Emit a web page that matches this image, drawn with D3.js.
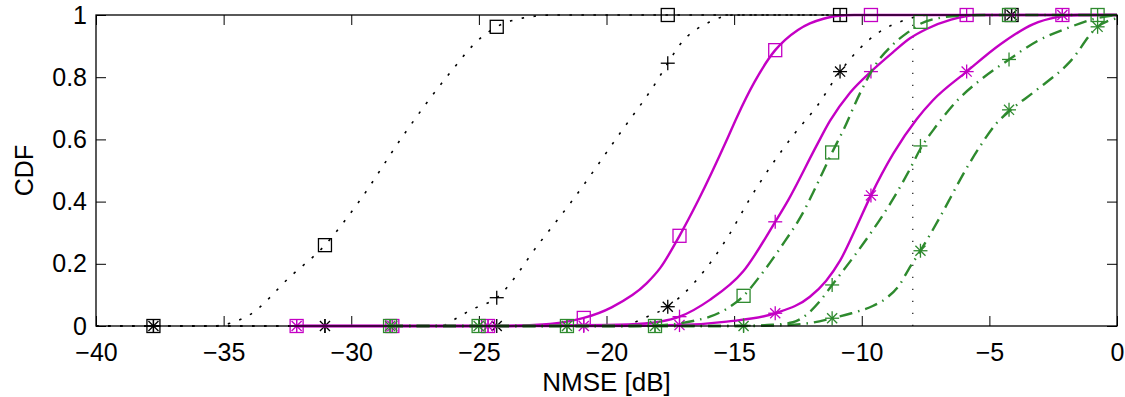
<!DOCTYPE html>
<html>
<head>
<meta charset="utf-8">
<script src="https://cdn.jsdelivr.net/npm/d3@7"></script>
<style>
  body { margin: 0; background: #fff; }
  text { font-family: "Liberation Sans", Arial, Helvetica, sans-serif; }
</style>
</head>
<body>
<svg id="chart"></svg>
<script>
// axis ticks
const xTicks = [-40, -35, -30, -25, -20, -15, -10, -5, 0];
const yTicks = [0, 0.2, 0.4, 0.6, 0.8, 1];

// marker positions for each colour group
const markXBlack = [-37.75, -31.03, -24.3, -17.6, -10.85, -4.13];
const markXMagenta = [-32.14, -28.39, -24.64, -20.89, -17.14, -13.39, -9.64, -5.89, -2.14];
const markXGreen = [-28.48, -25.01, -21.55, -18.1, -14.63, -11.16, -7.7, -4.23, -0.76];

// black dotted curves
const blackSquare = [[-40, 0], [-35.5, 0], [-34, 0.035], [-32.4, 0.158], [-31.03, 0.26], [-29.74, 0.395],
  [-27.9, 0.62], [-26.2, 0.807], [-24.95, 0.925], [-24.3, 0.962], [-23.3, 0.99], [-22, 1], [0, 1]];
const blackSquareMarks = [0, 0.26, 0.962, 1, 1, 1];

const blackPlus = [[-40, 0], [-26.5, 0], [-25.87, 0.025], [-25.35, 0.05], [-24.3, 0.091], [-22.6, 0.27],
  [-21.37, 0.4], [-19.47, 0.62], [-18.04, 0.786], [-17.6, 0.845], [-17.12, 0.905], [-15.95, 0.978], [-15, 1], [0, 1]];
const blackPlusMarks = [0, 0, 0.091, 0.845, 1, 1];

const blackStar = [[-40, 0], [-19.5, 0], [-18.4, 0.03], [-17.6, 0.062], [-16.53, 0.142], [-15.16, 0.298],
  [-14.45, 0.4], [-12.62, 0.62], [-11.77, 0.705], [-10.85, 0.818], [-10.07, 0.893], [-9.3, 0.946],
  [-8.5, 0.978], [-7.3, 1], [0, 1]];
const blackStarMarks = [0, 0, 0, 0.062, 0.818, 1];

// vertical dotted reference
const refLine = [[-8, 0], [-8, 1]];

// magenta solid curves
const magentaSquare = [[-32.14, 0], [-24, 0], [-22.5, 0.005], [-21.5, 0.015], [-20.89, 0.026], [-19.8, 0.06],
  [-18.43, 0.137], [-17.9, 0.186], [-17.14, 0.29], [-16.4, 0.405], [-15.29, 0.598], [-14.9, 0.67],
  [-14.2, 0.785], [-13.39, 0.887], [-13.0, 0.92], [-12.5, 0.952], [-12.03, 0.973], [-11.5, 0.988],
  [-11, 0.997], [-10.3, 1], [0, 1]];
const magentaSquareMarks = [0, 0, 0, 0.026, 0.29, 0.887, 1, 1, 1];

const magentaPlus = [[-32.14, 0], [-24, 0], [-20, 0.003], [-18.5, 0.008], [-17.9, 0.014], [-17.14, 0.03],
  [-15.95, 0.084], [-14.65, 0.175], [-13.39, 0.335], [-12.88, 0.405], [-11.77, 0.58], [-11.24, 0.66],
  [-10.46, 0.75], [-9.64, 0.818], [-8.78, 0.88], [-8.11, 0.925], [-7.46, 0.955], [-6.5, 0.985],
  [-5.5, 1], [0, 1]];
const magentaPlusMarks = [0, 0, 0, 0.003, 0.03, 0.335, 0.818, 1, 1];

const magentaStar = [[-32.14, 0], [-20, 0], [-17.14, 0.003], [-15.29, 0.014], [-13.39, 0.041], [-12.03, 0.094],
  [-11.4, 0.145], [-10.85, 0.21], [-10.2, 0.32], [-9.64, 0.42], [-8.76, 0.555], [-7.85, 0.665], [-7.21, 0.726],
  [-5.89, 0.818], [-4.58, 0.905], [-3.3, 0.97], [-2.36, 0.993], [-1.5, 1], [0, 1]];
const magentaStarMarks = [0, 0, 0, 0, 0.003, 0.041, 0.42, 0.818, 1];

// green dash-dot curves
const greenSquare = [[-28.48, 0], [-19, 0], [-17.5, 0.005], [-16.5, 0.018], [-15.95, 0.03], [-15.3, 0.055],
  [-14.63, 0.097], [-13.99, 0.16], [-13.2, 0.25], [-12.2, 0.38], [-11.9, 0.43], [-11.16, 0.558],
  [-10.72, 0.63], [-10.07, 0.748], [-9.42, 0.845], [-8.78, 0.905], [-8.18, 0.945], [-7.7, 0.972],
  [-7, 0.99], [-6, 0.998], [-5, 1], [0, 1]];
const greenSquareMarks = [0, 0, 0, 0, 0.097, 0.558, 0.978, 1, 1];

const greenPlus = [[-28.48, 0], [-15, 0], [-13.5, 0.004], [-12.7, 0.012], [-12.3, 0.028], [-11.64, 0.08],
  [-11.16, 0.132], [-10.34, 0.22], [-9.68, 0.295], [-8.76, 0.41], [-8.11, 0.505], [-7.7, 0.57],
  [-7.06, 0.645], [-6.2, 0.73], [-5.37, 0.79], [-4.23, 0.857], [-3.15, 0.915], [-1.97, 0.957],
  [-0.76, 0.99], [0, 1]];
const greenPlusMarks = [0, 0, 0, 0, 0.002, 0.132, 0.579, 0.857, 1];

const greenStar = [[-28.48, 0], [-14.6, 0], [-13, 0.003], [-12, 0.01], [-11.16, 0.025], [-10.4, 0.041],
  [-9.55, 0.065], [-9, 0.092], [-8.5, 0.135], [-8.18, 0.18], [-7.7, 0.242], [-6.93, 0.351], [-6.54, 0.41],
  [-6.15, 0.47], [-5.37, 0.577], [-4.72, 0.652], [-4.23, 0.69], [-3.15, 0.759], [-1.84, 0.85],
  [-0.76, 0.962], [0, 0.99]];
const greenStarMarks = [0, 0, 0, 0, 0, 0.025, 0.242, 0.695, 0.962];

const BLACK = "#000000", MAGENTA = "#c400c4", GREEN = "#2e8a2e";

const series = [
  {curve: blackSquare, mx: markXBlack, my: blackSquareMarks, color: BLACK, dash: "2.5,9.5", width: 1.6, sym: "square"},
  {curve: blackPlus, mx: markXBlack, my: blackPlusMarks, color: BLACK, dash: "2.5,9.5", width: 1.6, sym: "plus"},
  {curve: blackStar, mx: markXBlack, my: blackStarMarks, color: BLACK, dash: "2.5,9.5", width: 1.6, sym: "star"},
  {curve: magentaSquare, mx: markXMagenta, my: magentaSquareMarks, color: MAGENTA, dash: null, width: 2.4, sym: "square"},
  {curve: magentaPlus, mx: markXMagenta, my: magentaPlusMarks, color: MAGENTA, dash: null, width: 2.4, sym: "plus"},
  {curve: magentaStar, mx: markXMagenta, my: magentaStarMarks, color: MAGENTA, dash: null, width: 2.4, sym: "star"},
  {curve: greenSquare, mx: markXGreen, my: greenSquareMarks, color: GREEN, dash: "13,6,1.5,6", width: 2.4, sym: "square"},
  {curve: greenPlus, mx: markXGreen, my: greenPlusMarks, color: GREEN, dash: "13,6,1.5,6", width: 2.4, sym: "plus"},
  {curve: greenStar, mx: markXGreen, my: greenStarMarks, color: GREEN, dash: "13,6,1.5,6", width: 2.4, sym: "star"}
];

const W = 1125, H = 397;
const margin = {top: 15, right: 8, bottom: 71, left: 96};
const innerW = W - margin.left - margin.right;
const innerH = H - margin.top - margin.bottom;

const svg = d3.select("#chart").attr("width", W).attr("height", H);
const g = svg.append("g").attr("transform", `translate(${margin.left},${margin.top})`);

const x = d3.scaleLinear().domain([-40, 0]).range([0, innerW]);
const y = d3.scaleLinear().domain([0, 1]).range([innerH, 0]);

// axes, ticks pointing inward
const fontSize = 25;
g.append("g").attr("transform", `translate(0,${innerH})`)
  .call(d3.axisBottom(x).tickValues(xTicks).tickFormat(d3.format("d")).tickSize(-10).tickSizeOuter(0).tickPadding(17));
g.append("g")
  .call(d3.axisLeft(y).tickValues(yTicks).tickFormat(d => String(d)).tickSize(-10).tickSizeOuter(0).tickPadding(9));
g.append("g").call(d3.axisTop(x).tickValues(xTicks).tickFormat("").tickSize(-10).tickSizeOuter(0));
g.append("g").attr("transform", `translate(${innerW},0)`)
  .call(d3.axisRight(y).tickValues(yTicks).tickFormat("").tickSize(-10).tickSizeOuter(0));

g.selectAll(".domain").remove();
g.selectAll(".tick line").attr("stroke", "#000").attr("stroke-width", 1);
g.selectAll(".tick text").attr("font-size", fontSize).attr("fill", "#000")
  .style("font-family", '"Liberation Sans", Arial, Helvetica, sans-serif');

const line = d3.line().x(d => x(d[0])).y(d => y(d[1])).curve(d3.curveMonotoneX);

// reference line
g.append("path")
  .attr("d", d3.line().x(d => x(d[0])).y(d => y(d[1]))(refLine))
  .attr("fill", "none").attr("stroke", "#000").attr("stroke-width", 1.1)
  .attr("stroke-dasharray", "1.2,10.8");

function drawMarker(sel, sym, color) {
  const s = 6.5;
  if (sym === "square") {
    sel.append("rect").attr("x", -s).attr("y", -s).attr("width", 2 * s).attr("height", 2 * s)
      .attr("fill", "none").attr("stroke", color).attr("stroke-width", 1.3);
  } else {
    const a = s + 0.5;
    let segs = [[-a, 0, a, 0], [0, -a, 0, a]];
    if (sym === "star") {
      const b = a * 0.72;
      segs = segs.concat([[-b, -b, b, b], [-b, b, b, -b]]);
    }
    segs.forEach(p => sel.append("line")
      .attr("x1", p[0]).attr("y1", p[1]).attr("x2", p[2]).attr("y2", p[3])
      .attr("stroke", color).attr("stroke-width", 1.3));
  }
}

series.forEach(s => {
  g.append("path")
    .attr("d", line(s.curve))
    .attr("fill", "none")
    .attr("stroke", s.color)
    .attr("stroke-width", s.width)
    .attr("stroke-dasharray", s.dash);
  const pts = s.mx.map((v, i) => [v, s.my[i]]);
  g.selectAll(null).data(pts).join("g")
    .attr("transform", d => `translate(${x(d[0])},${y(d[1])})`)
    .each(function () { drawMarker(d3.select(this), s.sym, s.color); });
});

// frame
g.append("rect").attr("width", innerW).attr("height", innerH)
  .attr("fill", "none").attr("stroke", "#000").attr("stroke-width", 1.3);

// labels
svg.append("text")
  .attr("x", margin.left + innerW / 2).attr("y", 391)
  .attr("text-anchor", "middle").attr("font-size", 26)
  .text("NMSE [dB]");
svg.append("text")
  .attr("transform", `translate(33,${margin.top + innerH / 2}) rotate(-90)`)
  .attr("text-anchor", "middle").attr("font-size", fontSize)
  .text("CDF");
</script>
</body>
</html>
